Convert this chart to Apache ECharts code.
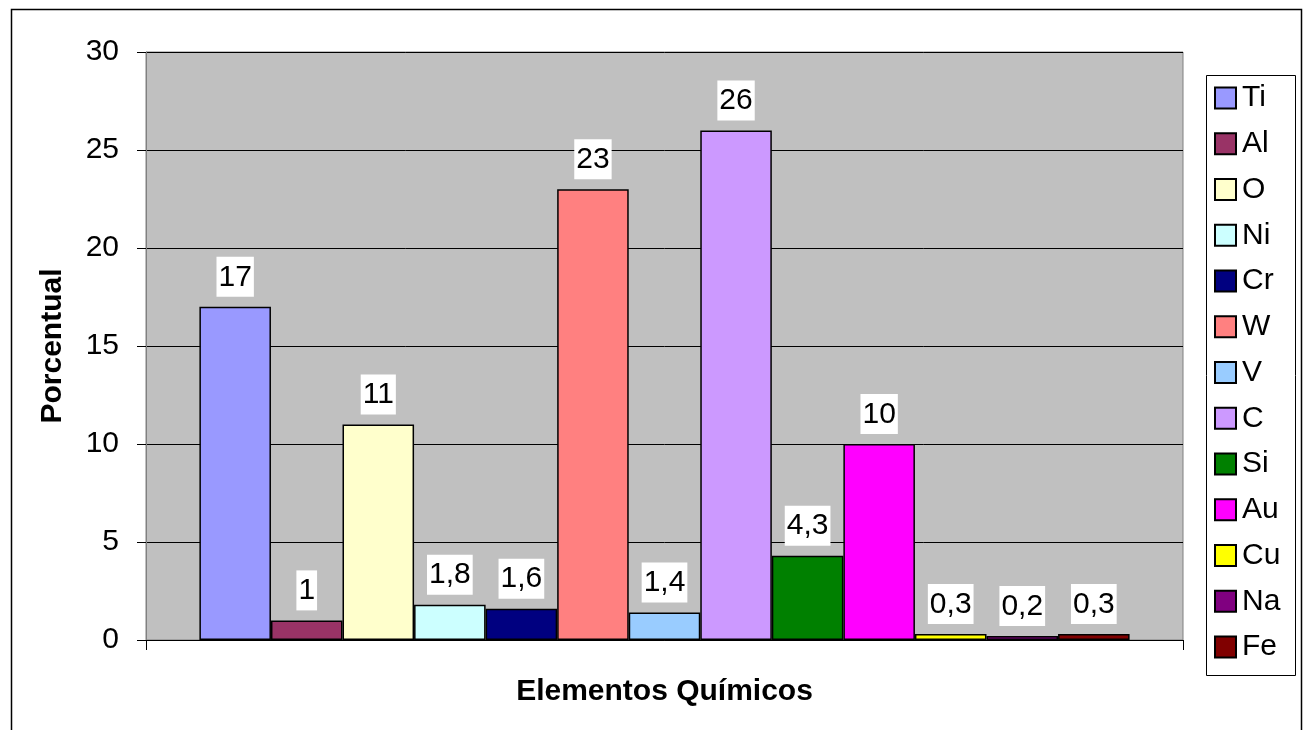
<!DOCTYPE html>
<html>
<head>
<meta charset="utf-8">
<script src="https://cdn.jsdelivr.net/npm/echarts@6/dist/echarts.min.js"></script>
<style>
html,body{margin:0;padding:0;background:#fff;}
#chart{width:1306px;height:730px;}
</style>
</head>
<body>
<div id="chart"></div>
<script>
const elements = ['Ti','Al','O','Ni','Cr','W','V','C','Si','Au','Cu','Na','Fe'];
const values = [17, 1, 11, 1.8, 1.6, 23, 1.4, 26, 4.3, 10, 0.3, 0.2, 0.3];
const colors = ['#9999FF','#993366','#FFFFCC','#CCFFFF','#000080','#FF8080','#99CCFF','#CC99FF','#008000','#FF00FF','#FFFF00','#800080','#800000'];
const yTicks = [0, 5, 10, 15, 20, 25, 30];
const xTitle = 'Elementos Químicos';
const yTitle = 'Porcentual';

const FONT = 'Arial, "Liberation Sans", sans-serif';
const FS = 30;
const chart = echarts.init(document.getElementById('chart'), null, {renderer: 'canvas'});

const series = elements.map((name, i) => ({
  name: name,
  type: 'bar',
  data: [values[i]],
  barGap: '0%',
  barCategoryGap: '10.3%',
  itemStyle: {color: colors[i], borderColor: '#000', borderWidth: 1.5},
  label: {
    show: true,
    position: 'top',
    distance: 10,
    formatter: p => String(p.value).replace('.', ','),
    color: '#000',
    fontFamily: FONT,
    fontSize: FS,
    backgroundColor: '#fff',
    padding: [4, 2, 3, 2],
    lineHeight: 33
  },
  emphasis: {disabled: true}
}));

chart.setOption({
  animation: false,
  backgroundColor: '#fff',
  textStyle: {fontFamily: FONT},
  grid: {left: 146, top: 52, right: 123, bottom: 90, show: true, backgroundColor: '#C0C0C0', borderColor: '#808080', borderWidth: 1},
  legend: {
    orient: 'vertical',
    left: 1204,
    top: 73,
    padding: [10, 6, 10, 10],
    itemWidth: 21,
    itemHeight: 21,
    itemGap: 15.75,
    icon: 'rect',
    borderWidth: 0,
    data: elements,
    textStyle: {fontFamily: FONT, fontSize: FS, color: '#000', padding: [0, 0, 0, 1]}
  },
  xAxis: {
    type: 'category',
    data: [''],
    name: xTitle,
    nameLocation: 'middle',
    nameGap: 37,
    nameTextStyle: {fontFamily: FONT, fontSize: FS, fontWeight: 'bold', color: '#000'},
    axisLine: {show: true, lineStyle: {color: '#000', width: 1}},
    axisTick: {show: true, length: 10, lineStyle: {color: '#000'}},
    axisLabel: {show: false},
    splitLine: {show: false}
  },
  yAxis: {
    type: 'value',
    min: yTicks[0],
    max: yTicks[yTicks.length - 1],
    interval: 5,
    name: yTitle,
    nameLocation: 'middle',
    nameRotate: 90,
    nameGap: 78,
    nameTextStyle: {fontFamily: FONT, fontSize: FS, fontWeight: 'bold', color: '#000'},
    axisLine: {show: true, lineStyle: {color: '#808080', width: 1}},
    axisTick: {show: true, length: 9, lineStyle: {color: '#000'}},
    axisLabel: {margin: 27, fontFamily: FONT, fontSize: FS, color: '#000'},
    splitLine: {show: true, lineStyle: {color: '#000', width: 1}}
  },
  graphic: [
    {type: 'rect', left: 9, top: 7, shape: {width: 1290, height: 760}, style: {fill: 'none', stroke: '#000', lineWidth: 1.5}, silent: true},
    {type: 'rect', left: 1204, top: 73, shape: {width: 89, height: 600}, style: {fill: 'none', stroke: '#000', lineWidth: 1}, silent: true}
  ],
  series: series
});
</script>
</body>
</html>
